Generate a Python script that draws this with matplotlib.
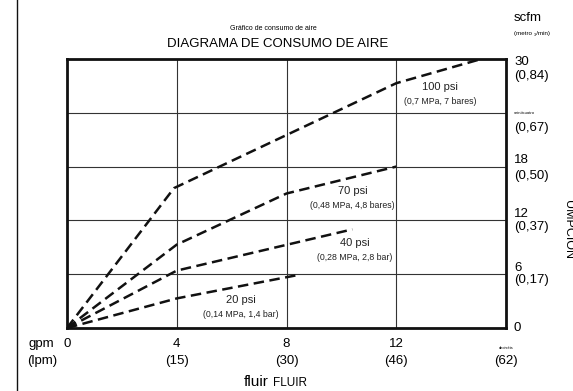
import matplotlib
matplotlib.use("Agg")
import matplotlib.pyplot as plt
from matplotlib.lines import Line2D
import matplotlib.transforms as mtransforms

plt.rcParams['font.family'] = ['Liberation Sans', 'DejaVu Sans']

# curves (gpm -> scfm)
gpm_100 = [0, 3.9, 12, 15.1]
scfm_100 = [0, 15.6, 27.3, 30]
gpm_70 = [0, 4, 8, 12]
scfm_70 = [0, 9.3, 15.0, 18]
gpm_40 = [0, 4, 10.4]
scfm_40 = [0, 6.4, 11.0]
gpm_20 = [0, 4, 8.4]
scfm_20 = [0, 3.3, 5.9]

# axis ticks and their labels
x_ticks = [4, 8, 12, 16]
x_top_labels = ['4', '8', '12', 'deciséis']
x_lpm_labels = ['(15)', '(30)', '(46)', '(62)']
y_ticks = [0, 6, 12, 18, 24, 30]
y_top_labels = ['0', '6', '12', '18', 'veinticuatro', '30']
y_m3_labels = ['', '(0,17)', '(0,37)', '(0,50)', '(0,67)', '(0,84)']

# curve captions
psi_labels = ['100 psi', '70 psi', '40 psi', '20 psi']
psi_sub = ['(0,7 MPa, 7 bares)', '(0,48 MPa, 4,8 bares)',
           '(0,28 MPa, 2,8 bar)', '(0,14 MPa, 1,4 bar)']
psi_pos = [(13.6, 26.9), (10.4, 15.3), (10.5, 9.5), (6.35, 3.1)]

fig = plt.figure(figsize=(5.73, 3.91), dpi=100)
ax = fig.add_axes([67 / 573, 1 - 328 / 391, 439 / 573, 269 / 391])

ax.set_xlim(0, 16)
ax.set_ylim(0, 30)
ax.set_xticks(x_ticks)
ax.set_yticks(y_ticks)
ax.tick_params(length=0, labelbottom=False, labelleft=False)
ax.grid(True, color='#333333', linewidth=0.8)
for s in ax.spines.values():
    s.set_linewidth(2.0)
    s.set_color('#111111')

dash_kw = dict(color='#111111', linewidth=1.8, dashes=(4.2, 2.2))
ax.plot(gpm_100, scfm_100, **dash_kw)
ax.plot(gpm_70, scfm_70, **dash_kw)
ax.plot(gpm_40, scfm_40, **dash_kw)
ax.plot(gpm_20, scfm_20, **dash_kw)

for lab, sub, (x, y) in zip(psi_labels, psi_sub, psi_pos):
    ax.text(x, y, lab, ha='center', va='center', fontsize=8, color='#222222')
    ax.text(x, y - 1.6, sub, ha='center', va='center', fontsize=6.3, color='#222222')

# x tick labels below the axes
tx = mtransforms.blended_transform_factory(ax.transData, fig.transFigure)
for x, t1, t2 in zip(x_ticks, x_top_labels, x_lpm_labels):
    if t1 == 'deciséis':
        ax.text(x, 1 - 348 / 391, t1, transform=tx, ha='center', va='center', fontsize=3)
    else:
        ax.text(x, 1 - 344 / 391, t1, transform=tx, ha='center', va='center', fontsize=9.5)
    ax.text(x, 1 - 361 / 391, t2, transform=tx, ha='center', va='center', fontsize=9.5)
fig.text(41 / 573, 1 - 344 / 391, 'gpm', ha='center', va='center', fontsize=9.5)
ax.text(0, 1 - 344 / 391, '0', transform=tx, ha='center', va='center', fontsize=9.5)
fig.text(42 / 573, 1 - 361 / 391, '(lpm)', ha='center', va='center', fontsize=9.5)
fig.text(269 / 573, 1 - 382 / 391, 'fluir', ha='right', va='center', fontsize=11)
fig.text(273 / 573, 1 - 383 / 391, 'FLUIR', ha='left', va='center', fontsize=8.5)

# y tick labels on the right
ty = mtransforms.blended_transform_factory(fig.transFigure, ax.transData)
y_offsets = [(-0.0, 0), (0.7, -0.7), (0.7, -0.7), (0.7, -1.0), (0.0, -1.7), (-0.3, -1.9)]
for y, t1, t2, (d1, d2) in zip(y_ticks, y_top_labels, y_m3_labels, y_offsets):
    if t1 == 'veinticuatro':
        ax.text(514 / 573, y + d1, t1, transform=ty, ha='left', va='center', fontsize=3)
    else:
        ax.text(514 / 573, y + d1, t1, transform=ty, ha='left', va='center', fontsize=9.5)
    if t2:
        ax.text(514 / 573, y + d2, t2, transform=ty, ha='left', va='center', fontsize=9.5)
fig.text(514 / 573, 1 - 18 / 391, 'scfm', ha='left', va='center', fontsize=9.5)
fig.text(514 / 573, 1 - 34 / 391, '(metro ₃/min)', ha='left', va='center', fontsize=4.5)
fig.text(568 / 573, 1 - 230 / 391, 'UMPCION', ha='center', va='center', fontsize=9,
         rotation=270)

# titles
fig.text(273 / 573, 1 - 29 / 391, 'Gráfico de consumo de aire', ha='center', va='center',
         fontsize=5)
fig.text(278 / 573, 1 - 44 / 391, 'DIAGRAMA DE CONSUMO DE AIRE', ha='center', va='center',
         fontsize=9.5)

# left border line of the page
fig.add_artist(Line2D([17 / 573, 17 / 573], [0, 1], color='#111111', linewidth=1.0,
                      transform=fig.transFigure))

fig.savefig('out.png', dpi=100)
